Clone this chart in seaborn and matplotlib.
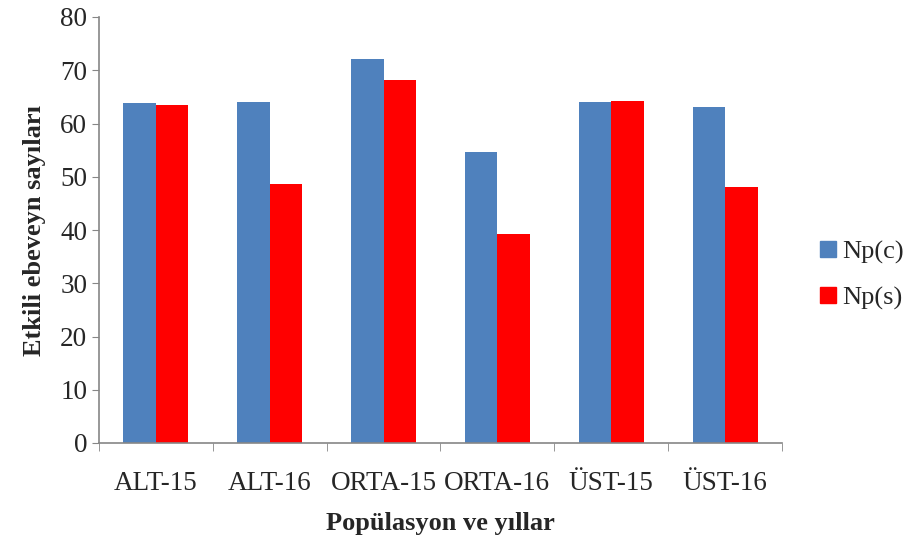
import matplotlib
matplotlib.use("Agg")
import matplotlib.pyplot as plt
from matplotlib.ticker import FixedLocator
from matplotlib.lines import Line2D
import seaborn as sns
import pandas as pd

categories = ["ALT-15", "ALT-16", "ORTA-15", "ORTA-16", "ÜST-15", "ÜST-16"]
np_c = [63.8, 64.0, 72.1, 54.7, 64.0, 63.1]
np_s = [63.4, 48.7, 68.2, 39.3, 64.2, 48.1]
series_names = ["Np(c)", "Np(s)"]
colors = ["#4F81BD", "#FF0000"]

df = pd.DataFrame({
    "Populasyon": categories * 2,
    "Deger": np_c + np_s,
    "Seri": [series_names[0]] * len(categories) + [series_names[1]] * len(categories),
})

sns.set_style("white")
plt.rcParams["font.family"] = ["Liberation Serif", "DejaVu Serif"]

fig = plt.figure(figsize=(9.12, 5.39), dpi=100)
ax = fig.add_axes([99 / 912, 1 - 443 / 539, (782 - 99) / 912, (443 - 17) / 539])

sns.barplot(data=df, x="Populasyon", y="Deger", hue="Seri", order=categories,
            hue_order=series_names, palette=colors, width=0.57, saturation=1,
            ax=ax, legend=False, linewidth=0)

ax.set_ylim(0, 80)
ax.set_xlim(-0.5, len(categories) - 0.5)
ax.set_yticks(range(0, 81, 10))
ax.tick_params(axis="y", labelsize=19.5, length=5, color="#868686", direction="out", left=True)
ax.tick_params(axis="x", which="major", labelsize=19.5, length=0, pad=20)
ax.xaxis.set_minor_locator(FixedLocator([i - 0.5 for i in range(len(categories) + 1)]))
ax.tick_params(axis="x", which="minor", length=6, color="#868686", direction="out", bottom=True)

for side in ["top", "right"]:
    ax.spines[side].set_visible(False)
for side in ["left", "bottom"]:
    ax.spines[side].set_color("#868686")
    ax.spines[side].set_linewidth(1.2)

ax.set_xlabel("Popülasyon ve yıllar", fontsize=19, fontweight="bold", labelpad=12)
ax.set_ylabel("Etkili ebeveyn sayıları", fontsize=19, fontweight="bold", labelpad=10)

handles = [Line2D([0], [0], marker="s", linestyle="none", markersize=11,
                  markerfacecolor=c, markeredgecolor=c) for c in colors]
fig.legend(handles, series_names, loc="center left", bbox_to_anchor=(815 / 912, 1 - 275 / 539),
           frameon=False, fontsize=19, handletextpad=0.05, labelspacing=0.85,
           handlelength=1.0, borderaxespad=0, borderpad=0)

fig.savefig("out.png", dpi=100)
